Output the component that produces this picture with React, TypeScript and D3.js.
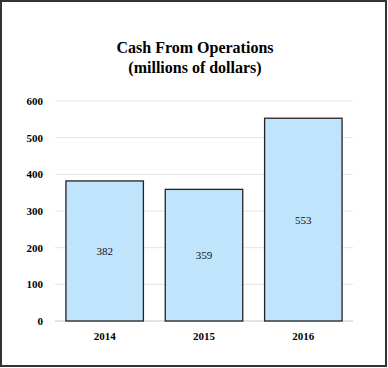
import React from 'react';
import * as d3 from 'd3';

const years: string[] = ['2014', '2015', '2016'];
const cash: number[] = [382, 359, 553];
const yTicks: number[] = [0, 100, 200, 300, 400, 500, 600];
const titleLines: string[] = ['Cash From Operations', '(millions of dollars)'];

const FONT = "'Liberation Serif', 'Times New Roman', serif";

const App: React.FC = () => {
    const xScale = d3.scaleBand()
        .domain(years)
        .range([55, 353])
        .paddingInner(0.22)
        .paddingOuter(0.11);

    const yScale = d3.scaleLinear()
        .domain([0, 600])
        .range([321, 101]);

    const rows = years.map((y, i) => ({ year: y, value: cash[i] }));
    const bw = xScale.bandwidth();

    return (
        <svg width={388} height={368}
            style={{ position: 'absolute', left: 0, top: 0, fontFamily: FONT }}>
            {/* outer frame */}
            <rect x={1} y={1} width={385} height={365} fill="#fff" stroke="#333" strokeWidth={2} />

            {titleLines.map((t, i) => (
                <text key={t} x={195} y={53 + i * 20} textAnchor="middle"
                    style={{ fontWeight: 'bold', fontSize: '16px' }}>{t}</text>
            ))}

            {/* gridlines */}
            {yTicks.map(d => (
                <line key={'g' + d} x1={55} x2={353} y1={yScale(d)} y2={yScale(d)}
                    stroke={d === 0 ? '#c8c8c8' : '#e4e4e4'} strokeWidth={1} />
            ))}

            {yTicks.map(d => (
                <text key={'t' + d} x={43} y={yScale(d) + 4} textAnchor="end"
                    style={{ fontWeight: 'bold', fontSize: '11px' }}>{d}</text>
            ))}

            {rows.map(d => (
                <rect key={'b' + d.year} x={xScale(d.year)!} y={yScale(d.value)}
                    width={bw} height={yScale(0) - yScale(d.value)}
                    fill="#c0e4fb" stroke="#222" strokeWidth={1.3} />
            ))}

            {rows.map(d => (
                <text key={'v' + d.year} x={xScale(d.year)! + bw / 2} y={yScale(d.value / 2) + 4}
                    textAnchor="middle" fill="#111" style={{ fontSize: '11px' }}>{d.value}</text>
            ))}

            {years.map(y => (
                <text key={'x' + y} x={xScale(y)! + bw / 2} y={340} textAnchor="middle"
                    style={{ fontWeight: 'bold', fontSize: '11px' }}>{y}</text>
            ))}
        </svg>
    );
};

export default App;
